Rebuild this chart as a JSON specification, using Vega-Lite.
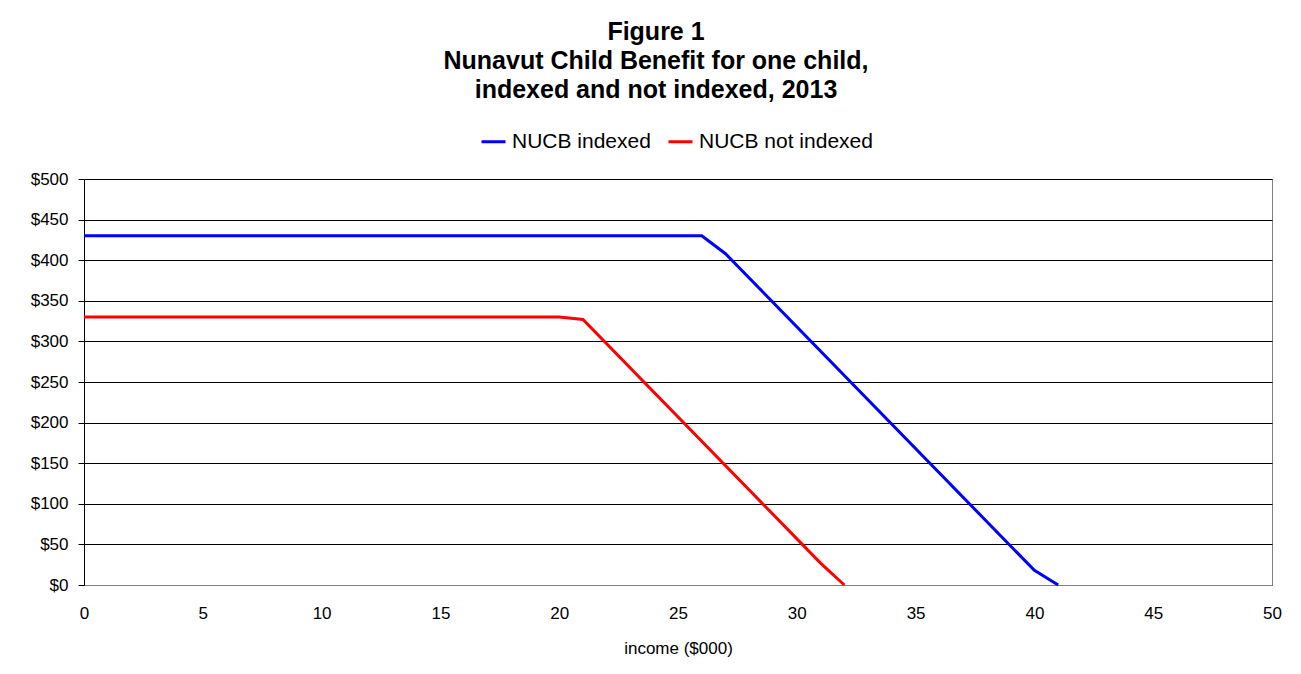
{
  "$schema": "https://vega.github.io/schema/vega-lite/v6.json",
  "width": 1188,
  "height": 406,
  "autosize": {"type": "none"},
  "padding": {"left": 84, "top": 179, "right": 29, "bottom": 89},
  "background": "white",
  "title": {
    "text": ["Figure 1", "Nunavut Child Benefit for one child,", "indexed and not indexed, 2013"],
    "font": "Liberation Sans",
    "fontSize": 25,
    "fontWeight": "bold",
    "color": "black",
    "lineHeight": 29,
    "anchor": "middle",
    "dx": -22,
    "offset": 25
  },
  "data": {
    "values": [
      {"income": 0, "benefit": 430, "series": "NUCB indexed"},
      {"income": 26, "benefit": 430, "series": "NUCB indexed"},
      {"income": 27, "benefit": 408, "series": "NUCB indexed"},
      {"income": 40, "benefit": 18, "series": "NUCB indexed"},
      {"income": 41, "benefit": 0, "series": "NUCB indexed"},
      {"income": 0, "benefit": 330, "series": "NUCB not indexed"},
      {"income": 20, "benefit": 330, "series": "NUCB not indexed"},
      {"income": 21, "benefit": 327, "series": "NUCB not indexed"},
      {"income": 31, "benefit": 27, "series": "NUCB not indexed"},
      {"income": 32, "benefit": 0, "series": "NUCB not indexed"}
    ]
  },
  "mark": {"type": "line", "strokeWidth": 3, "interpolate": "linear"},
  "encoding": {
    "x": {
      "field": "income",
      "type": "quantitative",
      "scale": {"domain": [0, 50], "nice": false, "zero": false},
      "axis": {
        "values": [0, 5, 10, 15, 20, 25, 30, 35, 40, 45, 50],
        "title": "income ($000)",
        "titleFont": "Liberation Sans",
        "titleFontSize": 17,
        "titleFontWeight": "normal",
        "titleColor": "black",
        "titlePadding": 19,
        "labelFont": "Liberation Sans",
        "labelFontSize": 17,
        "labelColor": "black",
        "labelPadding": 20,
        "labelFlush": false,
        "ticks": false,
        "tickSize": 0,
        "grid": false,
        "domainColor": "#808080",
        "domainWidth": 1
      }
    },
    "y": {
      "field": "benefit",
      "type": "quantitative",
      "scale": {"domain": [0, 500], "nice": false},
      "axis": {
        "values": [0, 50, 100, 150, 200, 250, 300, 350, 400, 450, 500],
        "format": "$.0f",
        "title": null,
        "labelFont": "Liberation Sans",
        "labelFontSize": 17,
        "labelColor": "black",
        "labelPadding": 10,
        "tickSize": 6,
        "tickColor": "black",
        "tickWidth": 1,
        "domainColor": "black",
        "domainWidth": 1,
        "grid": true,
        "gridColor": "black",
        "gridWidth": 1,
        "gridOpacity": 1
      }
    },
    "color": {
      "field": "series",
      "type": "nominal",
      "scale": {"domain": ["NUCB indexed", "NUCB not indexed"], "range": ["#0000FF", "#FF0000"]},
      "legend": {
        "orient": "none",
        "legendX": 396,
        "legendY": -51,
        "direction": "horizontal",
        "title": null,
        "symbolType": "stroke",
        "symbolSize": 576,
        "symbolStrokeWidth": 3,
        "labelFont": "Liberation Sans",
        "labelFontSize": 21,
        "labelColor": "black",
        "labelLimit": 400,
        "labelOffset": 5,
        "columnPadding": 11,
        "padding": 0
      }
    }
  },
  "config": {
    "view": {"stroke": "#808080", "strokeWidth": 1},
    "font": "Liberation Sans"
  }
}
